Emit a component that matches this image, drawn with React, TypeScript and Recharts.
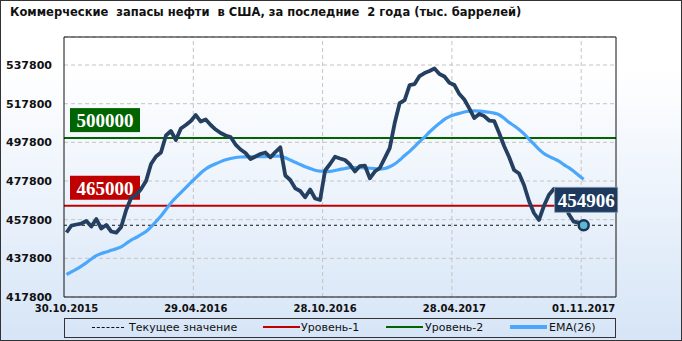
import React from 'react';
import { LineChart, Line, XAxis, YAxis, ReferenceLine, ReferenceDot, CartesianGrid } from 'recharts';

const titleText = 'Коммерческие  запасы нефти  в США, за последние  2 года (тыс. баррелей)';
const dateLabels = ['30.10.2015', '29.04.2016', '28.10.2016', '28.04.2017', '01.11.2017'];
const labelWeeks = [0, 26, 52, 78, 104];
const gridWeeks = [25.5, 51.5, 77.5, 103.5];
const yTicks = [417800, 437800, 457800, 477800, 497800, 517800, 537800];
const yDomain = [417800, 552300];

const stocks = [
  451160, 454780, 455300, 455810, 457110, 454260, 458140, 453230, 455040, 451680,
  451060, 454000, 462800, 469000, 470550, 473660, 477800, 486590, 490470, 492540,
  501330, 503660, 499000, 504950, 506760, 508830, 511930, 508570, 509600, 506760,
  504430, 502620, 501330, 500550, 496670, 494090, 492280, 489170, 490470, 491760,
  492540, 490050, 492790, 495230, 480640, 478310, 474020, 472620, 469370, 473400,
  468740, 467970, 483230, 486590, 490360, 489430, 488660, 486330, 482710, 485550,
  485810, 479190, 482710, 484520, 489690, 494860, 507790, 518140, 519690, 527450,
  527960, 532100, 533650, 534690, 535980, 533140, 531840, 528640, 527450, 522790,
  519950, 515400, 510380, 512450, 511410, 509090, 508830, 502620, 495900, 490210,
  483480, 481670, 475730, 467450, 461250, 457620, 464870, 470550, 473660, 473140,
  467970, 460730, 456750, 456230, 454906,
];

const ema26 = [
  429440, 430830, 432180, 433730, 435540, 437450, 439160, 440300, 441070, 441950,
  442730, 443760, 445470, 447280, 448570, 450130, 451680, 454110, 456850, 459690,
  463060, 466420, 469260, 471850, 474430, 477020, 479450, 481930, 484000, 485550,
  486740, 487830, 488760, 489430, 489950, 490210, 490310, 490360, 490360, 490360,
  490410, 490520, 490620, 490720, 489790, 488660, 487470, 486330, 485190, 484260,
  483380, 482920, 482660, 482760, 483230, 483800, 484260, 484730, 484730, 484670,
  484620, 484410, 484210, 484000, 484260, 485190, 486590, 488660, 490980, 493160,
  495540, 498230, 500550, 503140, 505470, 507640, 509660, 511100, 512040, 512810,
  513480, 513900, 514050, 514000, 513690, 513380, 512910, 512090, 510220, 508150,
  506400, 504480, 502210, 499470, 496830, 494240, 492020, 490570, 489380, 488090,
  486280, 484730, 482810, 480690, 478680,
];

const level1 = 465000;
const level2 = 500000;
const currentValue = 454906;
const lastWeek = 104;

const data = stocks.map((v, i) => ({ week: i, stocks: v, ema: ema26[i] }));

const axisFont = { fontFamily: 'DejaVu Sans', fontWeight: 'bold' as const, fontSize: 11, fill: '#111' };
const boxFont = { fontFamily: 'Liberation Serif', fontWeight: 'bold' as const, fontSize: 19 };

const LevelLabel = (props: any) => {
  const vb = props.viewBox || {};
  const x = vb.x + 6;
  const y = vb.y - 30;
  return (
    <g>
      <rect x={x} y={y} width={70} height={24} fill={props.bg} />
      <text x={x + 35} y={y + 12.5} textAnchor="middle" dominantBaseline="central" fill="#fff" style={boxFont}>{props.text}</text>
    </g>
  );
};

const CurrentShape = (props: any) => {
  const { cx, cy } = props;
  return (
    <g>
      <circle cx={cx} cy={cy} r={5} fill="#5cb8d2" stroke="#1b3556" strokeWidth={2.5} />
      <rect x={cx - 29} y={cy - 38} width={63} height={25} fill="#1d3a5e" stroke="#8b9bb0" strokeWidth={0.8} />
      <text x={cx + 2.5} y={cy - 25} textAnchor="middle" dominantBaseline="central" fill="#fff" style={boxFont}>{String(currentValue)}</text>
    </g>
  );
};

const legendText = { fontFamily: 'DejaVu Sans', fontSize: 11, color: '#111', position: 'absolute' as const, top: 2, lineHeight: '14px' };

export default function App() {
  return (
    <div style={{ position: 'absolute', left: 0, top: 0, width: 682, height: 341, boxSizing: 'border-box',
      border: '1px solid #333', background: 'linear-gradient(to bottom, #ffffff 0%, #ffffff 20%, #d6e5f7 100%)', overflow: 'hidden' }}>
      <div style={{ position: 'absolute', left: 9, top: 4, fontFamily: 'DejaVu Sans', fontWeight: 'bold', fontSize: 11.5, color: '#111', whiteSpace: 'pre' }}>
        {titleText}
      </div>
      <div style={{ position: 'absolute', left: -1, top: -1 }}>
        <LineChart width={682} height={341} data={data} margin={{ top: 37, right: 0, bottom: 24, left: 0 }}>
          <CartesianGrid yAxisId="left" vertical={false} strokeDasharray="4 3" stroke="#c4c4c4" />
          <XAxis dataKey="week" type="number" domain={[-0.5, 110.5]} ticks={labelWeeks} interval={0}
            tickFormatter={(v: number) => dateLabels[labelWeeks.indexOf(v)] || ''}
            height={20} tickLine={false} tickSize={0} tickMargin={8}
            axisLine={{ stroke: '#111' }}
            tick={{ fontFamily: 'DejaVu Sans', fontWeight: 'bold', fontSize: 10, fill: '#111' }} />
          <YAxis yAxisId="left" domain={yDomain} ticks={yTicks} interval={0} width={64}
            tickLine={false} tickSize={6} tickMargin={6} axisLine={{ stroke: '#111' }} tick={axisFont} />
          <YAxis yAxisId="right" orientation="right" domain={yDomain} ticks={yTicks} interval={0} width={66}
            tickLine={false} tickSize={6} tickMargin={5} axisLine={{ stroke: '#111' }} tick={{ ...axisFont, textAnchor: 'start' }} />
          {gridWeeks.map((w) => (
            <ReferenceLine key={w} yAxisId="left" x={w} stroke="#c4c4c4" strokeDasharray="4 3" />
          ))}
          <ReferenceLine yAxisId="left" y={yDomain[1]} stroke="#111" />
          <ReferenceLine yAxisId="left" y={currentValue} stroke="#111" strokeDasharray="3 3" />
          <ReferenceLine yAxisId="left" y={level1} stroke="#c00000" strokeWidth={2}
            label={<LevelLabel text={String(level1)} bg="#c00000" />} />
          <ReferenceLine yAxisId="left" y={level2} stroke="#006400" strokeWidth={2}
            label={<LevelLabel text={String(level2)} bg="#006400" />} />
          <Line yAxisId="left" type="monotone" dataKey="ema" stroke="#4aa7fb" strokeWidth={3.2} dot={false} isAnimationActive={false} />
          <Line yAxisId="left" type="linear" dataKey="stocks" stroke="#243f60" strokeWidth={3.8} dot={false}
            strokeLinejoin="round" isAnimationActive={false} />
          <ReferenceDot yAxisId="left" x={lastWeek} y={currentValue} shape={<CurrentShape />} />
        </LineChart>
      </div>
      <div style={{ position: 'absolute', left: 63, top: 317, width: 552, height: 20, boxSizing: 'border-box', border: '1px solid #333' }}>
        <div style={{ position: 'absolute', left: 27, top: 8, width: 32, borderTop: '1px dashed #111' }} />
        <div style={{ ...legendText, left: 64 }}>Текущее значение</div>
        <div style={{ position: 'absolute', left: 198, top: 7, width: 37, height: 2, background: '#c00000' }} />
        <div style={{ ...legendText, left: 236 }}>Уровень-1</div>
        <div style={{ position: 'absolute', left: 321, top: 7, width: 37, height: 2, background: '#006400' }} />
        <div style={{ ...legendText, left: 360 }}>Уровень-2</div>
        <div style={{ position: 'absolute', left: 445, top: 6, width: 37, height: 4, background: '#4aa7fb' }} />
        <div style={{ ...legendText, left: 484 }}>EMA(26)</div>
      </div>
    </div>
  );
}
